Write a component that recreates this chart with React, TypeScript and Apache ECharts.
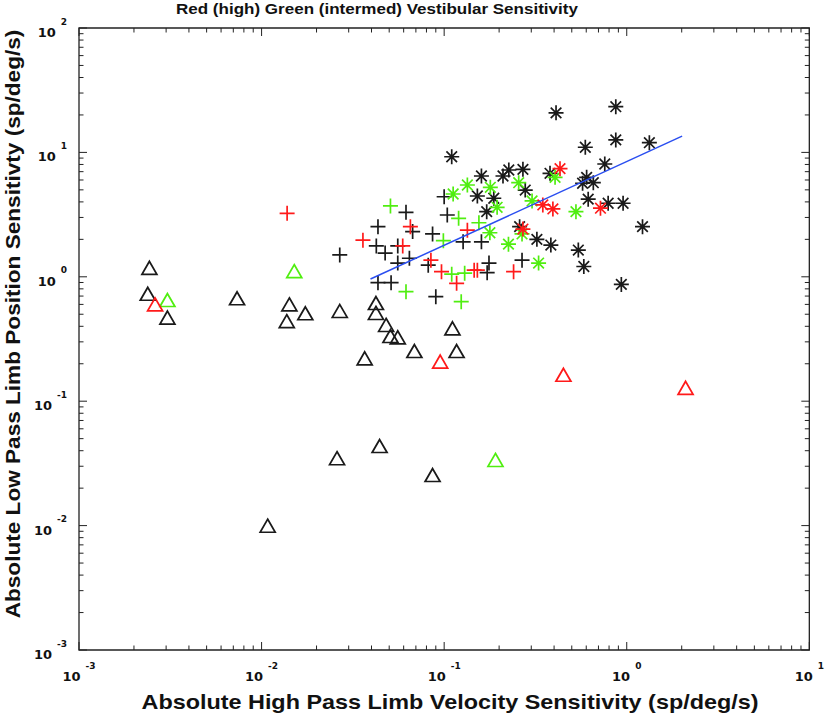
import React, { useEffect, useRef } from "react";
import * as echarts from "echarts";

// ---- data (x: high-pass velocity sensitivity, y: low-pass position sensitivity) ----
const blackTriangle: number[][] = [
  [0.00243, 1.18], [0.00238, 0.73], [0.00305, 0.47], [0.00734, 0.672], [0.0142, 0.6],
  [0.01374, 0.44], [0.01736, 0.509], [0.0268, 0.531], [0.0423, 0.615], [0.0423, 0.512],
  [0.0481, 0.41], [0.0508, 0.334], [0.0557, 0.326], [0.0687, 0.253], [0.111, 0.385],
  [0.117, 0.253], [0.0367, 0.221], [0.0443, 0.0436], [0.0259, 0.0348], [0.0864, 0.0255],
  [0.0108, 0.00998],
];
const redTriangle: number[][] = [[0.00261, 0.6], [0.0951, 0.208], [0.45, 0.163], [2.1, 0.128]];
const greenTriangle: number[][] = [[0.00305, 0.65], [0.0151, 1.11], [0.191, 0.0337]];

const blackPlus: number[][] = [
  [0.0268, 1.5], [0.1, 4.4], [0.0618, 3.3], [0.104, 3.14], [0.0434, 2.53], [0.0672, 2.31],
  [0.0864, 2.21], [0.127, 1.91], [0.16, 1.91], [0.0425, 1.77], [0.0475, 1.55], [0.0557, 1.77],
  [0.0645, 1.41], [0.0557, 1.29], [0.0818, 1.24], [0.176, 1.29], [0.172, 1.08], [0.0434, 0.897],
  [0.0512, 0.897], [0.09, 0.692], [0.267, 1.36],
];
const redPlus: number[][] = [
  [0.0138, 3.24], [0.0653, 2.53], [0.134, 2.37], [0.0359, 1.97], [0.0593, 1.77], [0.0846, 1.36],
  [0.0967, 1.1], [0.146, 1.13], [0.152, 1.13], [0.117, 0.887], [0.24, 1.1],
];
const greenPlus: number[][] = [
  [0.0508, 3.71], [0.12, 2.95], [0.155, 2.72], [0.099, 1.95], [0.11, 1.05], [0.1295, 1.07],
  [0.0618, 0.759], [0.124, 0.631],
];

const blackStar: number[][] = [
  [0.11, 9.23], [0.16, 6.46], [0.152, 4.46], [0.187, 4.28], [0.171, 3.34], [0.41, 20.8],
  [0.871, 23.3], [0.871, 12.6], [1.33, 11.97], [0.593, 11.0], [0.758, 8.07], [0.38, 6.79],
  [0.603, 6.3], [0.656, 5.71], [0.573, 5.65], [0.27, 7.31], [0.226, 7.22], [0.21, 6.46],
  [0.278, 4.98], [0.615, 4.21], [0.791, 3.9], [0.955, 3.9], [0.259, 2.53], [0.322, 2.0],
  [0.384, 1.8], [0.543, 1.64], [0.582, 1.21], [1.22, 2.53], [0.934, 0.869],
];
const redStar: number[][] = [[0.431, 7.4], [0.347, 3.78], [0.394, 3.51], [0.718, 3.56], [0.27, 2.42]];
const greenStar: number[][] = [
  [0.134, 5.47], [0.112, 4.63], [0.179, 5.24], [0.178, 2.26], [0.405, 6.3], [0.256, 5.71],
  [0.303, 4.07], [0.527, 3.34], [0.195, 3.62], [0.267, 2.21], [0.225, 1.83], [0.329, 1.29],
];

const fitLine: number[][] = [[0.0395, 0.96], [2.01, 13.5]];

const X_DECADES = [-3, -2, -1, 0, 1];
const Y_DECADES = [-3, -2, -1, 0, 1, 2];

const TITLE = "Red (high) Green (intermed) Vestibular Sensitivity";
const X_NAME = "Absolute High Pass Limb Velocity Sensitivity (sp/deg/s)";
const Y_NAME = "Absolute Low Pass Limb Position Sensitivty (sp/deg/s)";

const FONT = "'Liberation Sans', Arial, Helvetica, sans-serif";
const TICK_FONT = "'DejaVu Sans', 'Liberation Sans', Arial, sans-serif";
const BLACK = "#1a1a1a";
const RED = "#ff1a1a";
const GREEN = "#50ee10";
const BLUE = "#2a4ef0";

const PLUS_PATH = "path://M10 0L10 20M0 10L20 10";
const STAR_PATH = "path://M10 0L10 20M0 10L20 10M2.93 2.93L17.07 17.07M2.93 17.07L17.07 2.93";

function tickData() {
  const out: number[][] = [];
  const xMin = X_DECADES[0], xMax = X_DECADES[X_DECADES.length - 1];
  for (let k = xMin; k < xMax; k++) for (let m = 1; m <= 9; m++) out.push([m * Math.pow(10, k), 1, 0, m === 1 ? 1 : 0]);
  out.push([Math.pow(10, xMax), 1, 0, 1]);
  const yMin = Y_DECADES[0], yMax = Y_DECADES[Y_DECADES.length - 1];
  for (let k = yMin; k < yMax; k++) for (let m = 1; m <= 9; m++) out.push([1, m * Math.pow(10, k), 1, m === 1 ? 1 : 0]);
  out.push([1, Math.pow(10, yMax), 1, 1]);
  return out;
}

function scatter(name: string, data: number[][], symbol: string, color: string, size: any) {
  return {
    name,
    type: "scatter",
    data,
    symbol,
    symbolSize: size,
    itemStyle: { color: "rgba(0,0,0,0)", borderColor: color, borderWidth: 1.7, opacity: 1 },
    emphasis: { disabled: true },
  };
}

const labelFmt = (v: number) => `{b|10}{e|${Math.round(Math.log10(v))}}`;
const rich = {
  b: { fontSize: 13, fontWeight: "bold", fontFamily: TICK_FONT, color: "#111", lineHeight: 22, verticalAlign: "bottom" },
  e: { fontSize: 9, fontWeight: "bold", fontFamily: TICK_FONT, color: "#111", lineHeight: 10, verticalAlign: "top", padding: [0, 0, 0, 5] },
};

export default function App() {
  const ref = useRef<HTMLDivElement>(null);
  useEffect(() => {
    document.body.style.margin = "0";
    const chart = echarts.init(ref.current!, undefined, { renderer: "svg" });
    const xMin = Math.pow(10, X_DECADES[0]);
    const xMax = Math.pow(10, X_DECADES[X_DECADES.length - 1]);
    const yMin = Math.pow(10, Y_DECADES[0]);
    const yMax = Math.pow(10, Y_DECADES[Y_DECADES.length - 1]);
    chart.setOption({
      animation: false,
      backgroundColor: "#ffffff",
      grid: { left: 79, right: 13, top: 28, bottom: 74, show: true, borderColor: "#222", borderWidth: 1.3, containLabel: false },
      xAxis: {
        type: "log", logBase: 10, min: xMin, max: xMax,
        axisLine: { show: false }, axisTick: { show: false }, splitLine: { show: false },
        axisLabel: { formatter: labelFmt, rich, margin: 11 },
      },
      yAxis: {
        type: "log", logBase: 10, min: yMin, max: yMax,
        axisLine: { show: false }, axisTick: { show: false }, splitLine: { show: false },
        axisLabel: { formatter: labelFmt, rich, margin: 12 },
      },
      graphic: [
        { type: "text", x: 176, y: 9, scaleX: 1.216, style: { text: TITLE, font: `bold 14px ${FONT}`, fill: "#111", textAlign: "left", textVerticalAlign: "middle" } },
        { type: "text", x: 450, y: 703, scaleX: 1.2, style: { text: X_NAME, font: `bold 19.5px ${FONT}`, fill: "#111", textAlign: "center", textVerticalAlign: "middle" } },
        { type: "text", x: 13, y: 324, rotation: Math.PI / 2, scaleX: 1.13, style: { text: Y_NAME, font: `bold 20px ${FONT}`, fill: "#111", textAlign: "center", textVerticalAlign: "middle" } },
      ],
      series: [
        {
          type: "custom",
          clip: false,
          silent: true,
          data: tickData(),
          encode: { x: 0, y: 1 },
          renderItem: (params: any, api: any) => {
            const kind = api.value(2);
            const len = api.value(3) ? 8 : 4.5;
            const style = { stroke: "#222", lineWidth: 1 };
            if (kind === 0) {
              const v = api.value(0);
              const b = api.coord([v, yMin]);
              const t = api.coord([v, yMax]);
              return {
                type: "group",
                children: [
                  { type: "line", shape: { x1: b[0], y1: b[1], x2: b[0], y2: b[1] - len }, style },
                  { type: "line", shape: { x1: t[0], y1: t[1], x2: t[0], y2: t[1] + len }, style },
                ],
              };
            }
            const v = api.value(1);
            const l = api.coord([xMin, v]);
            const r = api.coord([xMax, v]);
            return {
              type: "group",
              children: [
                { type: "line", shape: { x1: l[0], y1: l[1], x2: l[0] + len, y2: l[1] }, style },
                { type: "line", shape: { x1: r[0], y1: r[1], x2: r[0] - len, y2: r[1] }, style },
              ],
            };
          },
        },
        scatter("blackTriangle", blackTriangle, "triangle", BLACK, [15, 13]),
        scatter("blackPlus", blackPlus, PLUS_PATH, BLACK, 15),
        scatter("blackStar", blackStar, STAR_PATH, BLACK, 15),
        scatter("greenTriangle", greenTriangle, "triangle", GREEN, [15, 13]),
        scatter("greenPlus", greenPlus, PLUS_PATH, GREEN, 15),
        scatter("greenStar", greenStar, STAR_PATH, GREEN, 15),
        scatter("redTriangle", redTriangle, "triangle", RED, [15, 13]),
        scatter("redPlus", redPlus, PLUS_PATH, RED, 15),
        scatter("redStar", redStar, STAR_PATH, RED, 15),
        {
          name: "fit",
          type: "line",
          data: fitLine,
          symbol: "none",
          lineStyle: { color: BLUE, width: 1.5 },
          silent: true,
        },
      ],
    });
    return () => chart.dispose();
  }, []);
  return <div ref={ref} style={{ width: 827, height: 724 }} />;
}
